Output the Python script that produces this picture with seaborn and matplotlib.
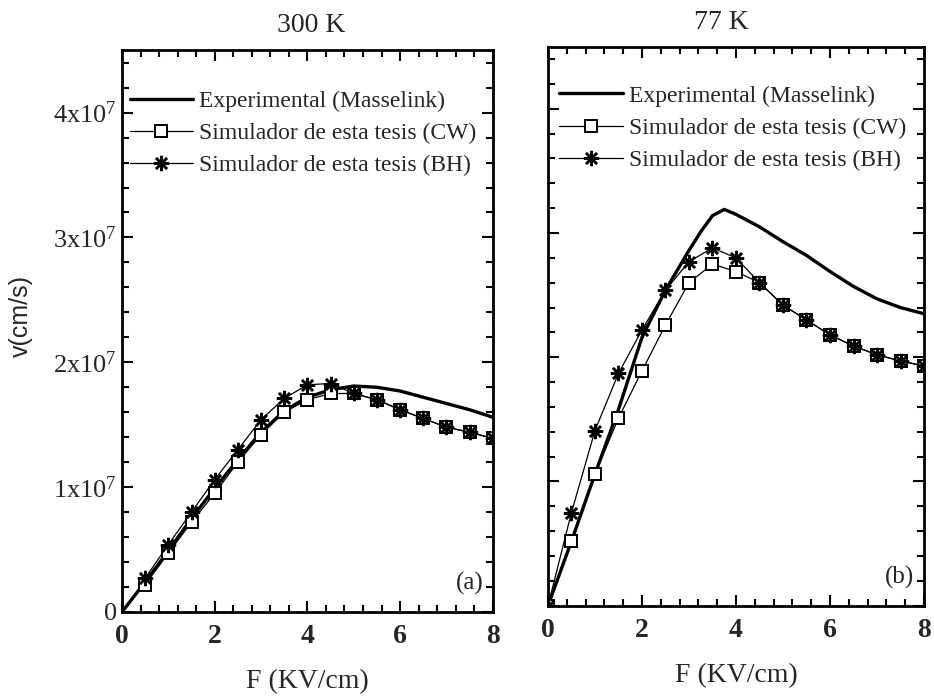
import matplotlib
matplotlib.use("Agg")
import matplotlib.pyplot as plt
from matplotlib.ticker import MultipleLocator, FixedLocator
import seaborn as sns

# Drift velocity v(F) in GaAs, units of 1e7 cm/s
F_sim = [0.5, 1.0, 1.5, 2.0, 2.5, 3.0, 3.5, 4.0, 4.5, 5.0, 5.5, 6.0, 6.5, 7.0, 7.5, 8.0]

# 300 K
F_exp_300 = [0.0, 0.5, 1.0, 1.5, 2.0, 2.5, 3.0, 3.5, 4.0, 4.5, 5.0, 5.5, 6.0, 6.5, 7.0, 7.5, 8.0]
v_exp_300 = [0.0, 0.24, 0.49, 0.75, 0.99, 1.22, 1.44, 1.61, 1.72, 1.78, 1.81, 1.80, 1.77, 1.72, 1.67, 1.62, 1.56]
v_cw_300 = [0.22, 0.47, 0.72, 0.95, 1.20, 1.42, 1.60, 1.70, 1.75, 1.75, 1.70, 1.62, 1.55, 1.48, 1.44, 1.39]
v_bh_300 = [0.27, 0.54, 0.80, 1.06, 1.30, 1.54, 1.71, 1.82, 1.83, 1.75, 1.70, 1.62, 1.55, 1.48, 1.44, 1.39]

# 77 K
F_exp_77 = [0.0, 0.5, 1.0, 1.5, 2.0, 2.5, 3.0, 3.25, 3.5, 3.75, 4.0, 4.25, 4.5,
            5.0, 5.5, 6.0, 6.5, 7.0, 7.5, 8.0]
v_exp_77 = [0.0, 0.52, 1.06, 1.58, 2.16, 2.54, 2.86, 3.01, 3.14, 3.19, 3.15, 3.10, 3.05,
            2.93, 2.82, 2.69, 2.57, 2.47, 2.40, 2.35]
F_sim_77 = [0.0] + F_sim
v_cw_77 = [0.0, 0.52, 1.06, 1.51, 1.89, 2.26, 2.60, 2.75, 2.69, 2.60, 2.42, 2.30, 2.18, 2.09, 2.02, 1.97, 1.93]
v_bh_77 = [0.0, 0.75, 1.41, 1.87, 2.22, 2.54, 2.77, 2.88, 2.80, 2.60, 2.42, 2.30, 2.18, 2.09, 2.02, 1.97, 1.93]

titles = ["300 K", "77 K"]
title_x = [0.51, 0.46]
panel_tags = ["(a)", "(b)"]
labels = ["Experimental (Masselink)",
          "Simulador de esta tesis (CW)",
          "Simulador de esta tesis (BH)"]
ytick_vals = [0, 1, 2, 3, 4]
ytick_text = ["0", "1x10$^{7}$", "2x10$^{7}$", "3x10$^{7}$", "4x10$^{7}$"]
xtick_vals = [0, 2, 4, 6, 8]

sns.set_theme(style="ticks")
plt.rcParams["font.family"] = ["Liberation Serif", "DejaVu Serif"]
plt.rcParams["mathtext.fontset"] = "custom"
plt.rcParams["mathtext.rm"] = "Liberation Serif"
plt.rcParams["mathtext.it"] = "Liberation Serif:italic"
plt.rcParams["mathtext.bf"] = "Liberation Serif:bold"

fig = plt.figure(figsize=(9.34, 6.97), dpi=100)
ax_a = fig.add_axes([0.1306, 0.122, 0.397, 0.806])
ax_b = fig.add_axes([0.5867, 0.131, 0.4026, 0.802])

panels = [
    (ax_a, F_exp_300, v_exp_300, F_sim, v_cw_300, F_sim, v_bh_300),
    (ax_b, F_exp_77, v_exp_77, F_sim_77, v_cw_77, F_sim_77, v_bh_77),
]
legend_anchor = [(-0.005, 0.945), (0.005, 0.948)]

star = (8, 2, 0)

for i, (ax, fe, ve, fc, vc, fb, vb) in enumerate(panels):
    sns.lineplot(x=fe, y=ve, ax=ax, color="black", linewidth=2.4,
                 label=labels[0], sort=False)
    sns.lineplot(x=fc, y=vc, ax=ax, color="black", linewidth=0.9,
                 marker="s", markersize=8.5, markerfacecolor="white",
                 markeredgecolor="black", markeredgewidth=1.4,
                 label=labels[1], sort=False)
    sns.lineplot(x=fb, y=vb, ax=ax, color="black", linewidth=0.9,
                 marker=star, markersize=11, markeredgecolor="black",
                 markeredgewidth=1.8, label=labels[2], sort=False)

    ax.set_xlim(0, 8)
    ax.set_ylim(0, 4.5)
    ax.xaxis.set_major_locator(FixedLocator(xtick_vals))
    ax.xaxis.set_minor_locator(MultipleLocator(0.4))
    ax.yaxis.set_major_locator(FixedLocator(ytick_vals))
    ax.yaxis.set_minor_locator(MultipleLocator(0.2))
    ax.tick_params(which="both", direction="in", top=True, right=True,
                   color="black", width=1.5)
    ax.tick_params(which="major", length=8)
    ax.tick_params(which="minor", length=5)
    ax.tick_params(axis="x", which="major", labelsize=20, pad=9)
    ax.set_xticklabels([str(v) for v in xtick_vals], fontweight="bold")
    for s in ax.spines.values():
        s.set_linewidth(2.0)
        s.set_color("black")

    ax.set_title(titles[i], fontsize=20, pad=13, x=title_x[i])
    ax.set_xlabel("F (KV/cm)", fontsize=20, labelpad=14)
    ax.text(0.975, 0.03, panel_tags[i], transform=ax.transAxes,
            ha="right", va="bottom", fontsize=18)

    ax.legend(loc="upper left", bbox_to_anchor=legend_anchor[i], frameon=False,
              fontsize=17, handlelength=2.7, handletextpad=0.25,
              labelspacing=0.45, borderaxespad=0.0, numpoints=1)

ax_a.set_yticklabels(ytick_text, fontsize=19)
ax_a.set_ylabel("v(cm/s)", fontsize=18, family="Liberation Sans")
ax_a.yaxis.set_label_coords(-0.24, 0.527)
ax_b.set_ylabel("")
ax_b.set_yticklabels([])

fig.savefig("out.png", dpi=100)
